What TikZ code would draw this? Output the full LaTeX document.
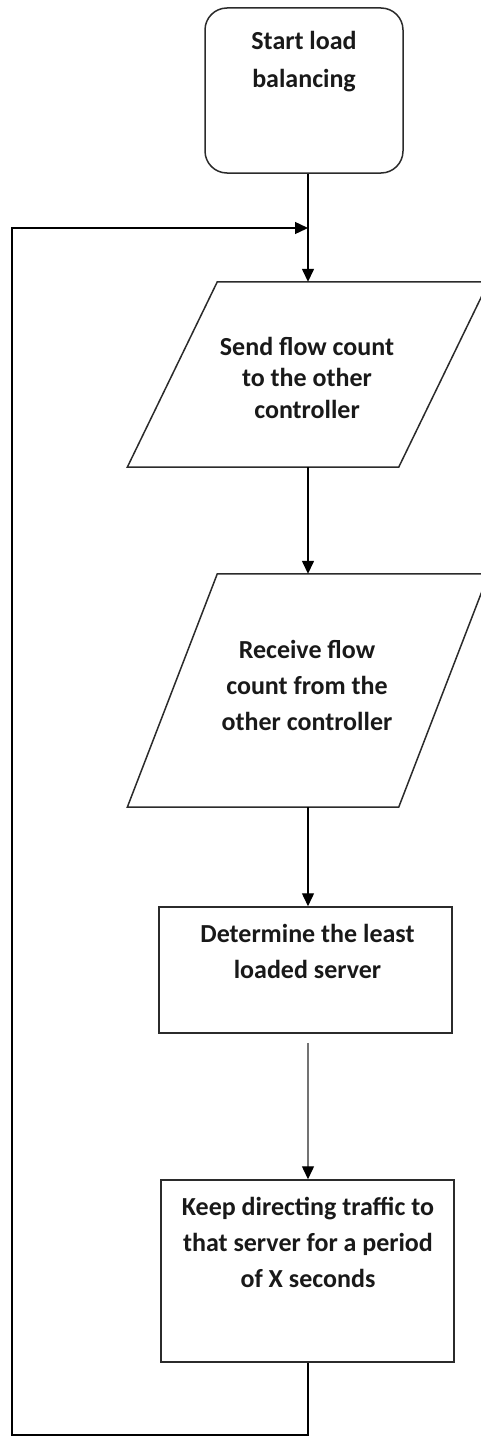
\documentclass[tikz,border=0pt]{standalone}
\usepackage{fontspec}
\setmainfont{Carlito}
\usetikzlibrary{arrows.meta}
\definecolor{edge}{HTML}{2B2B2B}
\tikzset{
  shapeline/.style={draw=edge, line width=1.5pt},
  startbox/.style={shapeline, rounded corners=22pt, minimum width=198pt, minimum height=165pt, inner sep=0pt},
  procbox/.style={shapeline, minimum width=293pt, inner sep=0pt},
  iobox/.style={minimum width=361pt, inner sep=0pt},
  lbl/.style={font=\bfseries\fontsize{26}{36}\selectfont, align=center, inner sep=0pt, text=black!90, anchor=base},
  flow/.style={draw=black, line width=1.4pt, -{Triangle[length=13pt,width=12pt,color=black]}},
}
\begin{document}
\begin{tikzpicture}[x=1pt,y=-1pt]
\useasboundingbox (0,0) rectangle (481,1437);

% start terminal
\node[startbox] (start) at (304,90.5) {};
\node[lbl, font=\bfseries\fontsize{26}{37}\selectfont] (startT) at (304,87) {Start load\\balancing};

% input/output steps (parallelograms with a 90pt slant)
\node[iobox, minimum height=185pt] (send) at (308,374.5) {};
\draw[shapeline] ([xshift=90pt]send.north west) -- (send.north east)
  -- ([xshift=-90pt]send.south east) -- (send.south west) -- cycle;
\node[lbl, font=\bfseries\fontsize{26}{31.5}\selectfont] (sendT) at (307,418) {Send flow count\\to the other\\controller};

\node[iobox, minimum height=233pt] (recv) at (308,690.5) {};
\draw[shapeline] ([xshift=90pt]recv.north west) -- (recv.north east)
  -- ([xshift=-90pt]recv.south east) -- (recv.south west) -- cycle;
\node[lbl] (recvT) at (307,730) {Receive flow\\count from the\\other controller};

% process steps
\node[procbox, minimum height=126pt] (least) at (305.5,970) {};
\node[lbl] (leastT) at (307.5,978) {Determine the least\\loaded server};

\node[procbox, minimum height=182pt] (keep) at (307.5,1271) {};
\node[lbl] (keepT) at (308,1287) {Keep directing traffic to\\that server for a period\\of X seconds};

% connectors
\coordinate (join) at (308,228);
\coordinate (corner) at (12,1435);
\draw[flow] (start.south -| send.north) -- (send.north);
\draw[flow] (send.south) -- (recv.north);
\draw[flow] (recv.south) -- (least.north -| recv.south);
\draw[flow, draw=black!55, shorten <=9pt] (least.south -| recv.south) -- (keep.north -| recv.south);
\draw[flow] (keep.south -| recv.south) |- (corner) |- (join);
\end{tikzpicture}
\end{document}
